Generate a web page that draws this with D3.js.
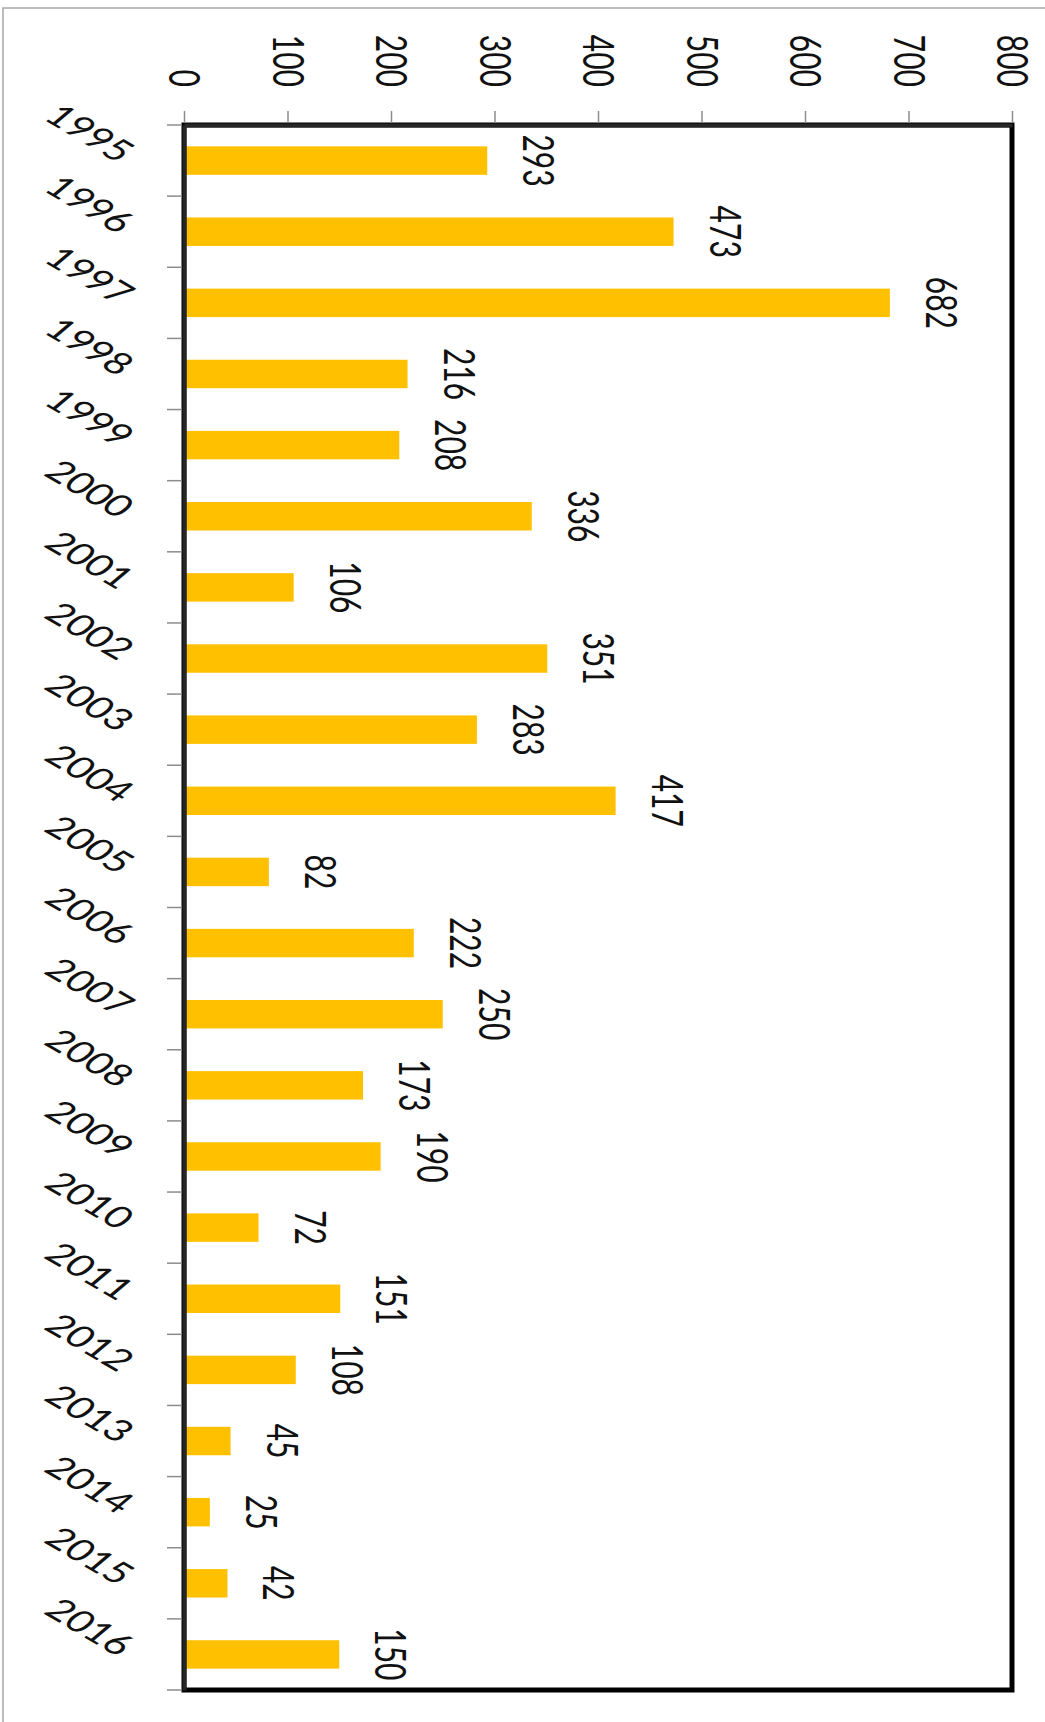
<!DOCTYPE html>
<html>
<head>
<meta charset="utf-8">
<script src="https://cdn.jsdelivr.net/npm/d3@7"></script>
<style>
  html, body { margin: 0; padding: 0; background: #fff; }
  svg { display: block; }
  text { font-family: Lato, "Open Sans", "Liberation Sans", sans-serif; fill: #111; }
</style>
</head>
<body>
<svg id="chart" width="1045" height="1722"></svg>
<script>
// ---- data ----
const years = ["1995","1996","1997","1998","1999","2000","2001","2002","2003","2004","2005",
               "2006","2007","2008","2009","2010","2011","2012","2013","2014","2015","2016"];
const values = [293, 473, 682, 216, 208, 336, 106, 351, 283, 417, 82,
                222, 250, 173, 190, 72, 151, 108, 45, 25, 42, 150];
const valueTicks = [0, 100, 200, 300, 400, 500, 600, 700, 800];

// ---- layout ----
const W = 1045, H = 1722;
const plot = { left: 184, right: 1012, top: 125, bottom: 1690 };
const S = 1.42;          // horizontal stretch of the picture
const FS = 30;           // font size
const TXT = `matrix(0,1,${-S},0,0,0)`; // rotate 90° clockwise + stretch

const svg = d3.select("#chart");

// outer chart border (cut off at right/bottom)
svg.append("rect")
  .attr("x", 3).attr("y", 8).attr("width", W + 20).attr("height", H + 20)
  .attr("fill", "#fff").attr("stroke", "#a6a6a6").attr("stroke-width", 1.5);

const x = d3.scaleLinear().domain([0, 800]).range([plot.left, plot.right]);
const y = d3.scaleBand().domain(years).range([plot.top, plot.bottom])
  .paddingInner(0.6).paddingOuter(0.3);

// bars
svg.append("g").selectAll("rect")
  .data(years.map((yr, i) => ({ yr, v: values[i] })))
  .join("rect")
  .attr("x", x(0))
  .attr("y", d => y(d.yr))
  .attr("width", d => x(d.v) - x(0))
  .attr("height", y.bandwidth())
  .attr("fill", "#FFC000");

// data labels
svg.append("g").selectAll("text")
  .data(years.map((yr, i) => ({ yr, v: values[i] })))
  .join("text")
  .attr("transform", d => `translate(${x(d.v) + 36},${y(d.yr) + y.bandwidth() / 2}) ${TXT}`)
  .attr("text-anchor", "middle")
  .attr("font-size", FS)
  .text(d => d.v);

// plot frame
svg.append("rect")
  .attr("x", plot.left).attr("y", plot.top)
  .attr("width", plot.right - plot.left).attr("height", plot.bottom - plot.top)
  .attr("fill", "none").attr("stroke", "#000").attr("stroke-width", 5);

// value axis (top)
const gx = svg.append("g")
  .attr("transform", `translate(0,${plot.top})`)
  .call(d3.axisTop(x).tickValues(valueTicks).tickSize(12).tickSizeOuter(0));
gx.select(".domain").attr("stroke", "#262626").attr("stroke-width", 4);
gx.selectAll(".tick line").attr("stroke", "#8c8c8c").attr("stroke-width", 1.5)
  .attr("y2", -14).attr("y1", -2);
gx.selectAll(".tick text")
  .attr("x", null).attr("y", null).attr("dy", null)
  .attr("transform", `translate(0,-38) ${TXT}`)
  .attr("text-anchor", "end")
  .attr("dy", "0.36em")
  .attr("font-size", FS)
  .attr("font-family", null)
  .attr("fill", "#111");

// category axis (left)
const gy = svg.append("g")
  .attr("transform", `translate(${plot.left},0)`)
  .call(d3.axisLeft(y).tickSize(0).tickSizeOuter(0));
gy.select(".domain").attr("stroke", "#262626").attr("stroke-width", 4);
gy.selectAll(".tick text")
  .attr("x", null).attr("y", null).attr("dy", null)
  .attr("transform", `translate(-66,3) ${TXT} rotate(-50)`)
  .attr("text-anchor", "end")
  .attr("font-size", FS)
  .attr("font-family", null)
  .attr("fill", "#111");

// category boundary tick marks (between categories)
const half = (y.step() - y.bandwidth()) / 2;
const bounds = years.map(yr => y(yr) - half).concat([y(years[years.length - 1]) + y.bandwidth() + half]);
gy.append("g").selectAll("line")
  .data(bounds)
  .join("line")
  .attr("x1", -17).attr("x2", -2)
  .attr("y1", d => d).attr("y2", d => d)
  .attr("stroke", "#8c8c8c").attr("stroke-width", 1.5);
</script>
</body>
</html>
